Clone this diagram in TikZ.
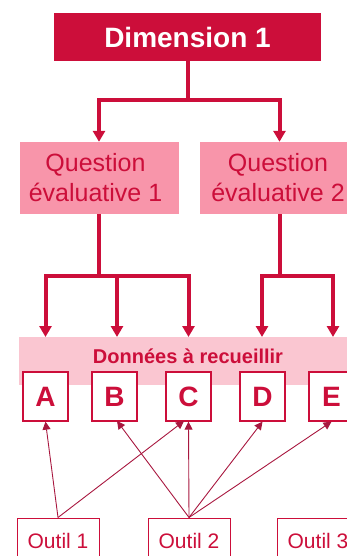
\documentclass[tikz,border=0pt]{standalone}
\usepackage{fontspec}
\setmainfont{Liberation Sans}
\usetikzlibrary{arrows.meta,calc}
\definecolor{crim}{HTML}{CC0E3A}
\definecolor{qpink}{HTML}{F895AA}
\definecolor{bandpink}{HTML}{FAC6D1}
\definecolor{thinred}{HTML}{A8173F}
\tikzset{
  dimbox/.style={fill=crim, draw=none, minimum width=267pt, minimum height=48pt, inner sep=0pt,
    text=white, font=\fontsize{28}{30}\selectfont\bfseries},
  qbox/.style={fill=qpink, draw=none, minimum width=159pt, minimum height=72pt, inner sep=0pt},
  qtext/.style={text=crim, align=center, inner sep=0pt, font=\fontsize{25}{30}\selectfont},
  bandbox/.style={fill=bandpink, draw=none, minimum width=341pt, minimum height=48pt, inner sep=0pt},
  bandtext/.style={text=crim, inner sep=0pt, font=\fontsize{20}{24}\selectfont\bfseries},
  letterbox/.style={fill=white, draw=crim, line width=1.3pt, minimum width=45pt, minimum height=49pt,
    inner sep=0pt, text=crim, font=\fontsize{28}{30}\selectfont\bfseries},
  toolbox/.style={fill=white, draw=crim, line width=1pt, minimum width=82pt, minimum height=45pt,
    inner sep=0pt, text=crim, font=\fontsize{21}{24}\selectfont},
  thickarrow/.style={draw=crim, line width=4pt, -{Triangle[length=11pt,width=12pt]}},
  thickline/.style={draw=crim, line width=4pt},
  thinarrow/.style={draw=thinred, line width=0.9pt, -{Triangle[length=8pt,width=8pt]}},
}
\begin{document}
\begin{tikzpicture}[x=1pt,y=-1pt]
\useasboundingbox (0,0) rectangle (347,556);
\clip (0,0) rectangle (347,556);

% boxes
\node[dimbox] (dim) at (187.5,37) {Dimension 1};
\node[qbox] (q1) at (99,178) {};
\node[qtext] (q1t) at (95.5,178) {Question\\évaluative 1};
\node[qbox] (q2) at (279.5,178) {};
\node[qtext] (q2t) at (278,178) {Question\\évaluative 2};
\node[bandbox] (band) at (189.5,361) {};
\node[bandtext, anchor=base] (bandt) at (188,363) {Données à recueillir};

\node[letterbox] (A) at (45.5,396.5) {A};
\node[letterbox] (B) at (114.5,396.5) {B};
\node[letterbox] (C) at (188.5,396.5) {C};
\node[letterbox] (D) at (262.5,396.5) {D};
\node[letterbox] (E) at (331.5,396.5) {E};

\node[toolbox] (o1) at (58,540.5) {Outil 1};
\node[toolbox] (o2) at (189,540.5) {Outil 2};
\node[toolbox] (o3) at (318,540.5) {Outil 3};

% junctions and arrow targets
\coordinate (j0) at (187.5,100);
\coordinate (j1) at (99,276);
\coordinate (j2) at (280,276);
\coordinate (tA) at (45.5,337);
\coordinate (tB) at (117,337);
\coordinate (tC) at (188.5,337);
\coordinate (tD) at (262,337);
\coordinate (tE) at (333,337);
\coordinate (bB) at (117,421);
\coordinate (cC) at (184,421);

% thick connectors
\draw[thickline] (dim.south) -- (j0);
\draw[thickarrow] (j0) -| (q1.north);
\draw[thickarrow] (j0) -| (q2.north);

\draw[thickline] (q1.south) -- (j1);
\draw[thickarrow] (j1) -| (tA);
\draw[thickarrow] (j1) -| (tB);
\draw[thickarrow] (j1) -| (tC);

\draw[thickline] (280,214) -- (j2);
\draw[thickarrow] (j2) -| (tD);
\draw[thickarrow] (j2) -| (tE);

% thin connectors
\draw[thinarrow] (o1.north) -- (A.south);
\draw[thinarrow] (o1.north) -- (cC);
\draw[thinarrow] (o2.north) -- (bB);
\draw[thinarrow] (o2.north) -- (C.south);
\draw[thinarrow] (o2.north) -- (D.south);
\draw[thinarrow] (o2.north) -- (E.south);
\end{tikzpicture}
\end{document}
